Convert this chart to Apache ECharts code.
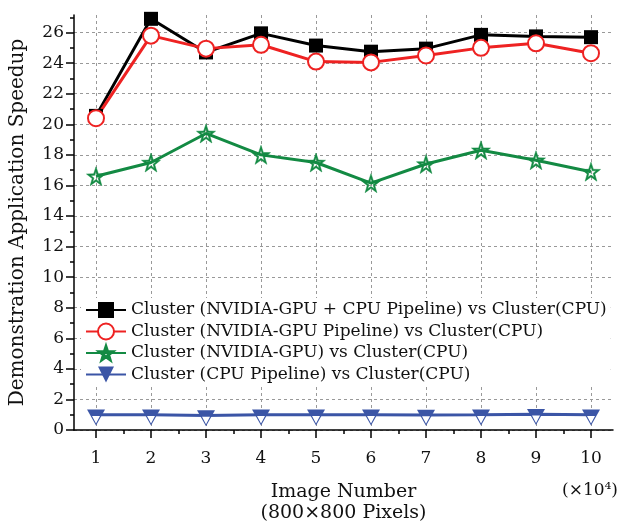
<!DOCTYPE html>
<html>
<head>
<meta charset="utf-8">
<script src="https://cdn.jsdelivr.net/npm/echarts@6/dist/echarts.min.js"></script>
<style>html,body{margin:0;padding:0;background:#fff;}#c{width:632px;height:529px;}</style>
</head>
<body>
<div id="c"></div>
<script>
// ---- data ----
const imageNumbers = [1, 2, 3, 4, 5, 6, 7, 8, 9, 10];
const seriesNames = [
  'Cluster (NVIDIA-GPU + CPU Pipeline) vs Cluster(CPU)',
  'Cluster (NVIDIA-GPU Pipeline) vs Cluster(CPU)',
  'Cluster (NVIDIA-GPU) vs Cluster(CPU)',
  'Cluster (CPU Pipeline) vs Cluster(CPU)'
];
const gpuCpuPipeline = [20.55, 26.9, 24.7, 25.95, 25.15, 24.75, 24.95, 25.85, 25.75, 25.7];
const gpuPipeline    = [20.4, 25.8, 24.95, 25.2, 24.1, 24.05, 24.5, 25.0, 25.3, 24.65];
const gpuOnly        = [16.6, 17.5, 19.4, 18.0, 17.5, 16.15, 17.4, 18.3, 17.65, 16.9];
const cpuPipeline    = [1.0, 1.0, 0.95, 1.0, 1.0, 1.0, 0.98, 1.0, 1.03, 1.0];
const xMajorTicks = [1, 2, 3, 4, 5, 6, 7, 8, 9, 10];
const xMinorTicks = [1.5, 2.5, 3.5, 4.5, 5.5, 6.5, 7.5, 8.5, 9.5];
const yMajorTicks = [0, 2, 4, 6, 8, 10, 12, 14, 16, 18, 20, 22, 24, 26];
const yMinorTicks = [1, 3, 5, 7, 9, 11, 13, 15, 17, 19, 21, 23, 25, 27];
const xAxisTitle = 'Image Number\n(800×800 Pixels)';
const yAxisTitle = 'Demonstration Application Speedup';
const xScaleNote = '(×10⁴)';

const pairs = arr => imageNumbers.map((x, i) => [x, arr[i]]);
const FONT = 'DejaVu Serif';
const STAR = 'path://M10,0L12.35,6.76L19.51,6.91L13.8,11.24L15.88,18.09L10,14L4.12,18.09L6.2,11.24L0.49,6.91L7.65,6.76Z' +
             'M10,4.5L8.71,8.17L4.77,8.25L7.91,10.68L6.77,14.45L10,12.2L13.23,14.45L12.09,10.68L15.23,8.25L11.29,8.17Z';
const TRI = 'path://M0,0L18,0L9,16Z';

const chart = echarts.init(document.getElementById('c'), null, {renderer: 'canvas'});
const axisLineStyle = {color: '#000', width: 1.5};
chart.setOption({
  animation: false,
  backgroundColor: '#fff',
  textStyle: {fontFamily: FONT},
  grid: {left: 73, right: 19, top: 15, bottom: 93.5, containLabel: false},
  xAxis: [{
    type: 'value', min: 0.6, max: 10.4,
    name: xAxisTitle, nameLocation: 'middle', nameGap: 52,
    nameTextStyle: {fontFamily: FONT, fontSize: 19, color: '#111', lineHeight: 21},
    axisLine: {show: true, onZero: false, lineStyle: axisLineStyle},
    axisTick: {show: true, inside: false, length: 8, customValues: xMajorTicks, lineStyle: {color: '#000', width: 1.5}},
    axisLabel: {show: true, customValues: xMajorTicks, margin: 20, fontFamily: FONT, fontSize: 17, color: '#111'},
    splitLine: {show: true, lineStyle: {color: '#999', type: [3, 3], width: 1}}
  }, {
    type: 'value', min: 0.6, max: 10.4, position: 'bottom', gridIndex: 0,
    axisLine: {show: false, onZero: false},
    axisTick: {show: true, inside: false, length: 4, customValues: xMinorTicks, lineStyle: {color: '#000', width: 1.5}},
    axisLabel: {show: false},
    splitLine: {show: false}
  }],
  yAxis: [{
    type: 'value', min: 0, max: 27.15, interval: 2,
    name: yAxisTitle, nameLocation: 'middle', nameGap: 46,
    nameTextStyle: {fontFamily: FONT, fontSize: 20, color: '#111'},
    axisLine: {show: true, lineStyle: axisLineStyle},
    axisTick: {show: true, inside: false, length: 8, customValues: yMajorTicks, lineStyle: {color: '#000', width: 1.5}},
    axisLabel: {show: true, customValues: yMajorTicks, margin: 10, fontFamily: FONT, fontSize: 17, color: '#111'},
    splitLine: {show: true, lineStyle: {color: '#999', type: [3, 3], width: 1}}
  }, {
    type: 'value', min: 0, max: 27.15, position: 'left', offset: 0, gridIndex: 0,
    axisLine: {show: false},
    axisTick: {show: true, inside: false, length: 4, customValues: yMinorTicks, lineStyle: {color: '#000', width: 1.5}},
    axisLabel: {show: false},
    splitLine: {show: false}
  }],
  legend: {
    data: seriesNames,
    orient: 'vertical', left: 81, top: 298,
    itemWidth: 40, itemHeight: 20, itemGap: 1.5,
    padding: [2, 4], backgroundColor: '#fff',
    textStyle: {fontFamily: FONT, fontSize: 17, color: '#111', lineHeight: 20}
  },
  graphic: [{
    type: 'text', x: 590, y: 491,
    style: {text: xScaleNote, fontFamily: FONT, fontSize: 17, fill: '#111', align: 'center', verticalAlign: 'middle'}
  }],
  series: [{
    name: seriesNames[0], type: 'line', data: pairs(gpuCpuPipeline),
    symbol: 'rect', symbolSize: 14,
    lineStyle: {color: '#000', width: 3},
    itemStyle: {color: '#000', borderColor: '#000', borderWidth: 0}
  }, {
    name: seriesNames[1], type: 'line', data: pairs(gpuPipeline),
    symbol: 'circle', symbolSize: 16,
    lineStyle: {color: '#ee2222', width: 3},
    itemStyle: {color: '#fff', borderColor: '#ee2222', borderWidth: 2}
  }, {
    name: seriesNames[2], type: 'line', data: pairs(gpuOnly),
    symbol: STAR, symbolSize: 19,
    lineStyle: {color: '#138a43', width: 3},
    itemStyle: {color: '#138a43', borderColor: '#138a43', borderWidth: 0.5}
  }, {
    name: seriesNames[3], type: 'line', data: pairs(cpuPipeline),
    symbol: TRI, symbolSize: [18, 16], symbolOffset: [0, 2.7],
    lineStyle: {color: '#3b55a6', width: 3},
    itemStyle: {color: '#3b55a6', borderColor: '#3b55a6', borderWidth: 0}
  }, {
    name: 'inner', type: 'line', data: pairs(cpuPipeline),
    symbol: TRI, symbolSize: [8, 7.5], symbolOffset: [0, 5],
    lineStyle: {width: 0, opacity: 0},
    itemStyle: {color: '#fff', borderWidth: 0},
    silent: true
  }]
});
</script>
</body>
</html>
